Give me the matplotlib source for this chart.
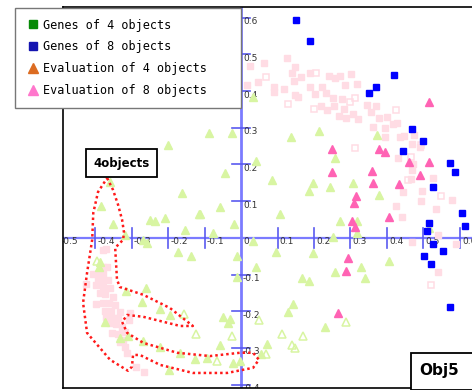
import numpy as np
import matplotlib
matplotlib.use("Agg")
import matplotlib.pyplot as plt
import matplotlib.transforms as mtransforms
from matplotlib.lines import Line2D
from matplotlib.patches import Rectangle

# Genes of 8 objects (blue squares)
genes8_x = [0.151, 0.189, 0.419, 0.370, 0.351, 0.468, 0.499, 0.444, 0.573, 0.586,
            0.526, 0.605, 0.614, 0.515, 0.510, 0.526, 0.553, 0.501, 0.521, 0.573]
genes8_y = [0.594, 0.537, 0.444, 0.412, 0.395, 0.297, 0.264, 0.237, 0.204, 0.180,
            0.139, 0.068, 0.033, 0.041, 0.019, -0.016, -0.035, -0.049, -0.071, -0.188]

# Evaluation of 8 objects (pink triangles)
eval8_x = [0.515, 0.249, 0.378, 0.395, 0.460, 0.515, 0.249, 0.359, 0.490, 0.362,
           0.433, 0.315, 0.310, 0.405, 0.304, 0.312, 0.293, 0.288, 0.266]
eval8_y = [0.371, 0.243, 0.243, 0.234, 0.207, 0.207, 0.180, 0.183, 0.172, 0.150,
           0.147, 0.114, 0.095, 0.057, 0.046, 0.030, -0.054, -0.090, -0.204]

# faded triangles (filled)
tri_x = [0.033, 0.137, 0.214, 0.373, 0.041, 0.258, 0.085, 0.197, 0.186, 0.244,
         0.307, 0.378, -0.088, -0.025, -0.044, -0.058, -0.112, -0.019, 0.107, 0.271,
         -0.077, 0.033, 0.252, -0.200, -0.359, -0.162, -0.384, -0.351, -0.249, -0.236,
         -0.208, -0.115, -0.153, -0.318, -0.268, -0.258, -0.173, -0.137, -0.011, 0.041,
         0.096, 0.197, -0.386, -0.389, -0.260, -0.315, -0.271, -0.222, -0.195, -0.373,
         -0.310, -0.332, -0.268, -0.222, -0.167, -0.126, -0.197, -0.093, -0.049, -0.030,
         -0.036, 0.129, -0.058, -0.022, -0.003, 0.071, 0.055, -0.011, 0.167, 0.186,
         0.258, 0.142, 0.230, 0.318, 0.318, 0.515, 0.405, 0.329, 0.340]
tri_y = [0.384, 0.275, 0.292, 0.281, 0.210, 0.218, 0.158, 0.150, 0.128, 0.139,
         0.150, 0.117, 0.286, 0.286, 0.177, 0.084, 0.065, 0.038, 0.065, 0.046,
         0.014, -0.008, 0.003, 0.253, 0.153, 0.123, 0.087, 0.038, 0.049, 0.046,
         0.054, 0.065, 0.022, 0.008, -0.005, -0.014, -0.038, -0.049, -0.049, -0.079,
         -0.038, -0.041, -0.065, -0.079, -0.136, -0.144, -0.174, -0.193, -0.210, -0.229,
         -0.267, -0.272, -0.281, -0.297, -0.313, -0.330, -0.360, -0.327, -0.215, -0.221,
         -0.232, -0.202, -0.292, -0.341, -0.335, -0.289, -0.316, -0.106, -0.109, -0.117,
         -0.093, -0.180, -0.243, 0.046, 0.014, 0.027, -0.063, -0.079, -0.109]

# faded triangles (hollow)
tri_open_x = [-0.395, -0.156, -0.123, -0.025, -0.066, 0.049, 0.068, 0.112, 0.140, 0.148, 0.170, 0.288]
tri_open_y = [-0.063, -0.207, -0.262, -0.267, -0.335, -0.223, -0.316, -0.262, -0.292, -0.300, -0.267, -0.229]

# faded squares (filled)
sq_x = [0.025, 0.063, 0.126, 0.148, 0.140, 0.164, 0.145, 0.189, 0.241, 0.258,
        0.271, 0.301, 0.285, 0.318, 0.016, 0.047, 0.090, 0.090, 0.118, 0.189,
        0.222, 0.148, 0.156, 0.203, 0.233, 0.252, 0.277, 0.219, 0.236, 0.255,
        0.282, 0.307, 0.321, 0.268, 0.288, 0.345, 0.370, 0.356, 0.378, 0.400,
        0.362, 0.395, 0.416, 0.427, 0.395, 0.436, 0.447, 0.468, 0.474, 0.490,
        0.430, 0.471, 0.468, 0.466, 0.526, 0.444, 0.496, 0.578, 0.425, 0.493,
        0.534, 0.441, 0.540, 0.468, 0.589, 0.540,
        -0.370, -0.378, -0.378, -0.367, -0.405, -0.389, -0.378, -0.392, -0.381, -0.364,
        -0.425, -0.397, -0.378, -0.359, -0.386, -0.373, -0.351, -0.397, -0.378, -0.362,
        -0.345, -0.373, -0.356, -0.332, -0.370, -0.351, -0.337, -0.304, -0.307, -0.359,
        -0.342, -0.326, -0.353, -0.337, -0.318, -0.323, -0.332, -0.318, -0.312, -0.288,
        -0.266]
sq_y = [0.469, 0.477, 0.490, 0.466, 0.450, 0.439, 0.428, 0.450, 0.441, 0.436,
        0.441, 0.447, 0.417, 0.420, 0.417, 0.425, 0.411, 0.398, 0.406, 0.411,
        0.411, 0.390, 0.384, 0.392, 0.395, 0.381, 0.379, 0.360, 0.349, 0.360,
        0.351, 0.338, 0.324, 0.332, 0.327, 0.362, 0.360, 0.343, 0.327, 0.330,
        0.302, 0.300, 0.311, 0.313, 0.275, 0.275, 0.278, 0.256, 0.281, 0.248,
        0.218, 0.202, 0.185, 0.161, 0.163, 0.125, 0.128, 0.104, 0.087, 0.101,
        0.079, 0.057, 0.008, -0.011, -0.016, -0.093,
        -0.030, -0.033, -0.079, -0.079, -0.098, -0.098, -0.098, -0.114, -0.114, -0.114,
        -0.125, -0.128, -0.134, -0.136, -0.150, -0.153, -0.161, -0.180, -0.177, -0.177,
        -0.183, -0.199, -0.199, -0.202, -0.215, -0.218, -0.218, -0.204, -0.223, -0.232,
        -0.234, -0.243, -0.259, -0.262, -0.256, -0.278, -0.283, -0.297, -0.313, -0.351,
        -0.365]

# faded squares (hollow)
sq_open_x = [0.068, 0.205, 0.129, 0.200, 0.299, 0.312, 0.425, 0.312, 0.466, 0.493, 0.458, 0.548, 0.521]
sq_open_y = [0.439, 0.450, 0.365, 0.351, 0.371, 0.381, 0.349, 0.245, 0.221, 0.253, 0.158, 0.114, -0.128]

# hand drawn outline around the 4objects group
outline_x = [-0.367, -0.351, -0.337, -0.326, -0.321, -0.323, -0.345, -0.340, -0.332, -0.268,
             -0.195, -0.132, -0.167, -0.268, -0.312, -0.326, -0.312, -0.268, -0.175, -0.085,
             -0.003, 0.033, 0.049, 0.033, -0.038, -0.132, -0.222, -0.277, -0.296, -0.299,
             -0.310, -0.359, -0.422, -0.433, -0.422, -0.408, -0.405, -0.392, -0.367]
outline_y = [0.163, 0.131, 0.090, 0.049, 0.016, -0.005, -0.027, -0.114, -0.134, -0.155,
             -0.191, -0.240, -0.240, -0.215, -0.210, -0.229, -0.259, -0.286, -0.313, -0.322,
             -0.313, -0.313, -0.332, -0.354, -0.368, -0.368, -0.346, -0.319, -0.319, -0.351,
             -0.362, -0.332, -0.259, -0.177, -0.095, -0.005, 0.068, 0.125, 0.163]

tick_values = [-0.5, -0.4, -0.3, -0.2, -0.1, 0.1, 0.2, 0.3, 0.4, 0.5, 0.6]
legend_labels = ["Genes of 4 objects", "Genes of 8 objects",
                 "Evaluation of 4 objects", "Evaluation of 8 objects"]

W, H = 472, 390
fig = plt.figure(figsize=(W / 100, H / 100), dpi=100)
ax = fig.add_axes([63 / W, 2 / H, (480 - 63) / W, (388 - 7) / H])
ax.set_xlim(-0.488, 0.655)
ax.set_ylim(-0.409, 0.629)
ax.set_xticks([])
ax.set_yticks([])
for side in ["left", "top", "bottom"]:
    ax.spines[side].set_color("black")
    ax.spines[side].set_linewidth(1.2)
ax.spines["right"].set_visible(False)

# axes through the origin with crossing ticks
axis_col = "#7b7bff"
ax.axhline(0, color=axis_col, lw=1.6, zorder=1)
ax.axvline(0, color=axis_col, lw=2.0, zorder=1)
lab_tr = mtransforms.offset_copy(ax.transData, fig=fig, x=2, y=-4, units="dots")
for v in tick_values:
    ax.plot([v, v], [-0.027, 0.027], color="#5a5af0", lw=1.2, zorder=1)
    ax.plot([-0.025, 0.025], [v, v], color="#5a5af0", lw=1.2, zorder=1)
    ax.text(v, 0, f"{v:g}", transform=lab_tr, fontsize=6.5, color="#333333",
            ha="left", va="center", clip_on=True, zorder=1.5)
    ax.text(0, v, f"{v:g}", transform=lab_tr, fontsize=6.5, color="#333333",
            ha="left", va="center", clip_on=True, zorder=1.5)
ax.text(0, 0, "0", transform=lab_tr, fontsize=6.5, color="#333333",
        ha="left", va="center", zorder=1.5)

pale_pink = "#ffdce4"
pale_green = "#d8f5a2"
ax.plot(sq_x, sq_y, "s", ms=4.6, mfc=pale_pink, mec=pale_pink, zorder=2)
ax.plot(sq_open_x, sq_open_y, "s", ms=4.2, mfc="none", mec=pale_pink, mew=1.1, zorder=2)
ax.plot(tri_x, tri_y, "^", ms=6.2, mfc=pale_green, mec=pale_green, zorder=2)
ax.plot(tri_open_x, tri_open_y, "^", ms=5.8, mfc="none", mec=pale_green, mew=1.1, zorder=2)
ax.plot(eval8_x, eval8_y, "^", ms=6.2, mfc="#ff63b4", mec="#ff63b4", zorder=3)
ax.plot(genes8_x, genes8_y, "s", ms=4.8, mfc="#0000ff", mec="#0000ff", zorder=3)

ax.plot(outline_x, outline_y, color="#ff1a1a", lw=1.8, ls=(0, (1, 1.2)), zorder=4)

# label boxes
fig.add_artist(Rectangle((86 / W, 1 - 177 / H), 71 / W, 28 / H, transform=fig.transFigure,
                         facecolor="white", edgecolor="black", lw=1.3, zorder=6))
fig.text(121.5 / W, 1 - 163 / H, "4objects", fontsize=8.5, fontweight="bold",
         ha="center", va="center", zorder=7)
fig.add_artist(Rectangle((411 / W, 1 - 390 / H), 70 / W, 37 / H, transform=fig.transFigure,
                         facecolor="white", edgecolor="black", lw=1.3, zorder=6))
fig.text(439 / W, 1 - 370 / H, "Obj5", fontsize=11, fontweight="bold",
         ha="center", va="center", zorder=7)

handles = [
    Line2D([], [], ls="none", marker="s", ms=6, mfc="#078a07", mec="#078a07"),
    Line2D([], [], ls="none", marker="s", ms=6, mfc="#1414b0", mec="#1414b0"),
    Line2D([], [], ls="none", marker="^", ms=7, mfc="#dc6c22", mec="#dc6c22"),
    Line2D([], [], ls="none", marker="^", ms=7, mfc="#ff77cc", mec="#ff77cc"),
]
leg = fig.legend(handles, legend_labels, loc="upper left",
                 bbox_to_anchor=(15 / W, 0, (241 - 15) / W, 1 - 8 / H), mode="expand",
                 prop={"family": "DejaVu Sans Mono", "size": 8.5},
                 handlelength=1.2, handletextpad=0.3, labelspacing=0.75,
                 borderpad=0.9, borderaxespad=0, fancybox=False,
                 edgecolor="#777777", framealpha=1)
leg.get_frame().set_linewidth(1.0)
leg.set_zorder(8)

fig.savefig("out.png", dpi=100)
